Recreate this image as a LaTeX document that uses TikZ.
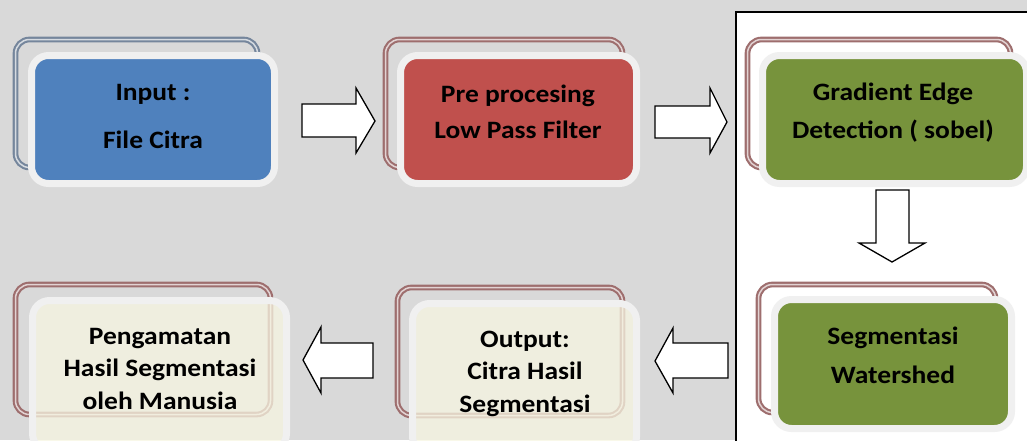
\documentclass[tikz,border=0pt]{standalone}
\usepackage{fontspec}
\setmainfont{Carlito}
\usepackage{graphicx}
\definecolor{bgc}{HTML}{D9D9D9}
\definecolor{cblue}{HTML}{4F81BD}
\definecolor{cred}{HTML}{C0504D}
\definecolor{cgreen}{HTML}{77933C}
\definecolor{cpale}{HTML}{F7F6E2}
\definecolor{rimc}{HTML}{F0F0F0}
\definecolor{frblue}{HTML}{75869C}
\definecolor{frrose}{HTML}{9E6E6E}
\newcommand{\xs}[1]{\scalebox{1.1}[1]{#1}}
\begin{document}
\begin{tikzpicture}[x=1pt,y=-1pt,
  backframe/.style={draw=#1, double=#1!30, double distance=1.5pt, line width=2.1pt, rounded corners=14pt},
  stepbox/.style={draw=rimc, line width=7pt, rounded corners=17pt, inner sep=0pt},
  steptext/.style={font=\fontsize{25}{#1}\selectfont\bfseries, align=center, anchor=base, inner sep=0pt},
  blockarrow/.style={draw=black, fill=white, line width=1.3pt, line join=miter}]
\useasboundingbox (0,0) rectangle (1027,440);
\clip (0,0) rectangle (1027,440);
\fill[bgc] (0,0) rectangle (1027,440);
\draw[black, line width=1.3pt, fill=white] (736,12) rectangle (1040,450);

% back frames
\draw[backframe=frblue] (15.5,39.5) rectangle (257.5,167.5);
\draw[backframe=frrose] (385.5,39.5) rectangle (622.5,167.5);
\draw[backframe=frrose] (747.5,39.5) rectangle (1010.5,167.5);
\draw[backframe=frrose] (758.5,284.5) rectangle (995.5,412.5);
\draw[backframe=frrose] (397.5,287.5) rectangle (622.5,415.5);
\draw[backframe=frrose] (15.5,284.5) rectangle (270.5,414.5);

% front boxes
\node[stepbox, fill=cblue, minimum width=243pt, minimum height=128pt] (input) at (153,119.5) {};
\node[stepbox, fill=cred, minimum width=236pt, minimum height=128pt] (pre) at (518.5,119.5) {};
\node[stepbox, fill=cgreen, minimum width=264pt, minimum height=128pt] (grad) at (894.5,119.5) {};
\node[stepbox, fill=cgreen, minimum width=237pt, minimum height=129pt] (water) at (893,364) {};
\node[stepbox, fill=cpale, fill opacity=0.75, minimum width=224pt, minimum height=150pt] (output) at (524.5,378.5) {};
\node[stepbox, fill=cpale, fill opacity=0.75, minimum width=254pt, minimum height=150pt] (human) at (159.5,375.5) {};

% texts (anchor base = baseline of last line)
\node[steptext=48pt] (input-t) at (153,148) {\xs{Input :}\\\xs{File Citra}};
\node[steptext=36pt] (pre-t) at (518,138) {\xs{Pre procesing}\\\xs{Low Pass Filter}};
\node[steptext=38pt] (grad-t) at (893,138) {\xs{Gradient Edge}\\\xs{Detection ( sobel)}};
\node[steptext=39pt] (water-t) at (893,383) {\xs{Segmentasi}\\\xs{Watershed}};
\node[steptext=32.5pt] (output-t) at (525,412) {\xs{Output:}\\\xs{Citra Hasil}\\\xs{Segmentasi}};
\node[steptext=32.5pt] (human-t) at (160,409) {\xs{Pengamatan}\\\xs{Hasil Segmentasi}\\\xs{oleh Manusia}};

% block arrows
\draw[blockarrow] (302,104) -- (356,104) -- (356,88) -- (375,121) -- (356,153) -- (356,137) -- (302,137) -- cycle;
\draw[blockarrow] (655,106) -- (710,106) -- (710,88) -- (727,122) -- (710,153) -- (710,138) -- (655,138) -- cycle;
\draw[blockarrow] (876,190) -- (909,190) -- (909,243) -- (925,243) -- (892,262) -- (859,243) -- (876,243) -- cycle;
\draw[blockarrow] (728,343) -- (673,343) -- (673,328) -- (655,361) -- (673,393) -- (673,378) -- (728,378) -- cycle;
\draw[blockarrow] (373,343) -- (321,343) -- (321,327) -- (303,360) -- (321,393) -- (321,378) -- (373,378) -- cycle;
\end{tikzpicture}
\end{document}
